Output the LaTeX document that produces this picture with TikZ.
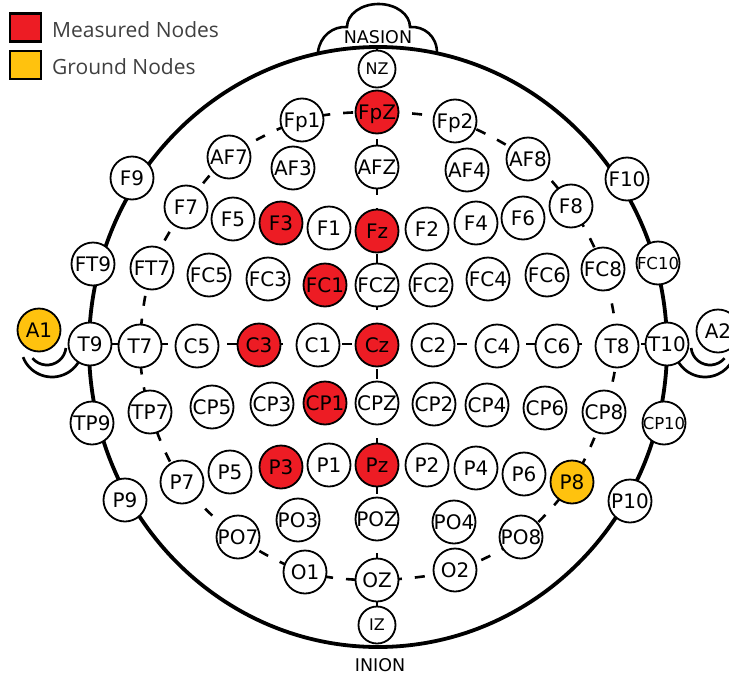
\documentclass[tikz,border=0pt]{standalone}
\usepackage{fontspec}
\setmainfont{DejaVu Sans}
\newfontfamily\legendfont{Open Sans}
\pgfdeclarelayer{bg}
\pgfsetlayers{bg,main}

\definecolor{measred}{RGB}{237,28,36}
\definecolor{gndyellow}{RGB}{255,194,14}
\definecolor{legendtext}{RGB}{64,64,64}

\tikzset{
  elec/.style={circle, draw=black, line width=1.8pt, fill=white,
    minimum size=43pt, inner sep=0pt},
  tiny/.style={elec, minimum size=37pt},
  meas/.style={fill=measred},
  gnd/.style={fill=gndyellow},
  lbl/.style={font=\fontsize{20}{20}\selectfont, inner sep=0pt,
    text height=14.6pt, text depth=0pt},
  lblsmall/.style={font=\fontsize{16.5}{16.5}\selectfont, inner sep=0pt,
    text height=12pt, text depth=0pt},
  lbltiny/.style={font=\fontsize{16}{16}\selectfont, inner sep=0pt,
    text height=11.7pt, text depth=0pt},
  headline/.style={line width=3.8pt},
  gridline/.style={line width=2.6pt, dash pattern=on 10pt off 13pt},
  ear/.style={line width=2.7pt},
  keybox/.style={draw=black, line width=2.2pt, minimum width=30.5pt,
    minimum height=28pt, inner sep=0pt},
  keytext/.style={font=\legendfont\fontsize{21}{21}\selectfont,
    text=legendtext, inner sep=0pt, anchor=base west},
  landmark/.style={font=\fontsize{17.5}{17.5}\selectfont, inner sep=0pt,
    anchor=base}
}

\begin{document}
\begin{tikzpicture}[x=1pt,y=1pt]
\useasboundingbox (0,0) rectangle (729,-675);

% ---- electrodes ----
\foreach \n/\x/\y in {
  Fp1/302/120, Fp2/455/121,
  AF7/229/157, AF3/293/168, AFZ/377/167, AF4/467/170, AF8/528/159,
  F9/132/178, F10/627/179,
  F7/186/207, F5/233/219, F1/329/228, F2/427/229, F4/476/223, F6/523/218, F8/571/206,
  FT9/93/264, FT7/152/268, FC5/209/275, FC3/268/279, FCZ/377/285, FC2/431/285,
  FC4/488/279, FC6/547/275, FC8/603/269,
  T9/90/344, T7/140/346, C5/197/346, C1/318/345, C2/433/345, C4/497/346,
  C6/557/346, T8/617/346, T10/667/344, A2/718/331,
  TP9/92/423, TP7/150/412, CP5/212/407, CP3/272/404, CPZ/377/403, CP2/434/404,
  CP4/487/405, CP6/545/408, CP8/604/412,
  P9/125/500, P10/630/501,
  P7/182/482, P5/230/472, P1/329/465, P2/427/465, P4/476/468, P6/524/474,
  PO7/238/537, PO3/298/520, POZ/377/519, PO4/454/522, PO8/521/537,
  O1/305/572, OZ/377/580, O2/455/570}
  \node[elec, label={[lbl]center:\n}] (\n) at (\x,-\y) {};

\foreach \n/\x/\y in {FC10/658/263, CP10/664/423}
  \node[elec, label={[lblsmall]center:\n}] (\n) at (\x,-\y) {};

\foreach \n/\x/\y in {NZ/377/69, IZ/377/625}
  \node[tiny, label={[lbltiny]center:\n}] (\n) at (\x,-\y) {};

\foreach \n/\x/\y in {FpZ/377/112, F3/281/223, Fz/377/231, FC1/325/285,
  C3/259/345, Cz/377/345, CP1/325/403, P3/281/467, Pz/377/465}
  \node[elec, meas, label={[lbl]center:\n}] (\n) at (\x,-\y) {};

\foreach \n/\x/\y in {A1/39/330, P8/572/482}
  \node[elec, gnd, label={[lbl]center:\n}] (\n) at (\x,-\y) {};

\coordinate (vtop) at (377,-47);

% ---- head outline, grid lines and ears, behind the electrodes ----
\begin{pgfonlayer}{bg}
  \draw[headline] (378,-347) ellipse [x radius=289, y radius=300];
  % nasion bump
  \draw[headline, line width=2.6pt]
    (318,-52) .. controls (320,-36) and (333,-26) .. (347,-27)
    arc[start angle=180, end angle=0, x radius=31.5, y radius=23]
    .. controls (424,-26) and (437,-36) .. (437,-53);
  % 10-20 ring
  \draw[gridline] plot[smooth cycle, tension=0.55] coordinates {
    (FpZ) (Fp2) (AF8) (F8) (FC8) (T8) (CP8) (P8) (PO8) (O2) (OZ)
    (O1) (PO7) (P7) (TP7) (T7) (FT7) (F7) (AF7) (Fp1)};
  % midlines
  \draw[gridline] (T9) -- (T10);
  \draw[gridline] (vtop) -- (IZ);
  % ears
  \draw[ear] (47,-346) ++(220:19) arc[start angle=220, end angle=354, radius=19];
  \draw[ear] (52,-346) ++(201:31) arc[start angle=201, end angle=335, radius=31];
  \draw[ear] (710,-346) ++(186:19) arc[start angle=186, end angle=320, radius=19];
  \draw[ear] (705,-346) ++(205:31) arc[start angle=205, end angle=332, radius=31];
\end{pgfonlayer}

% ---- landmarks ----
\node[landmark] (nasion) at (378,-43) {NASION};
\node[landmark] (inion) at (380,-671) {INION};

% ---- key ----
\node[keybox, fill=measred] (keymeas) at (25.5,-27.5) {};
\node[keybox, fill=gndyellow] (keygnd) at (25.5,-65) {};
\node[keytext] (keymeastext) at (52,-37) {Measured Nodes};
\node[keytext] (keygndtext) at (52,-74) {Ground Nodes};
\end{tikzpicture}
\end{document}
